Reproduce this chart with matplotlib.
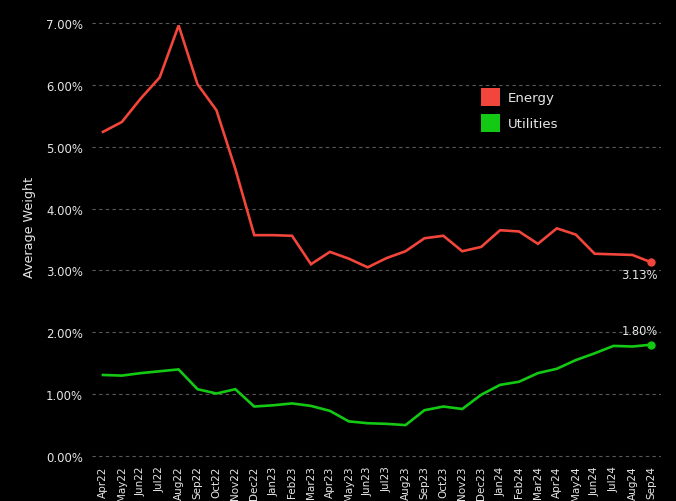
import matplotlib
matplotlib.use("Agg")
import matplotlib.pyplot as plt
from matplotlib.patches import Patch
from matplotlib.ticker import FuncFormatter

months = ["Apr22", "May22", "Jun22", "Jul22", "Aug22", "Sep22", "Oct22", "Nov22", "Dec22",
          "Jan23", "Feb23", "Mar23", "Apr23", "May23", "Jun23", "Jul23", "Aug23", "Sep23",
          "Oct23", "Nov23", "Dec23", "Jan24", "Feb24", "Mar24", "Apr24", "May24", "Jun24",
          "Jul24", "Aug24", "Sep24"]
energy = [5.24, 5.40, 5.78, 6.12, 6.96, 6.01, 5.59, 4.64, 3.57,
          3.57, 3.56, 3.10, 3.30, 3.19, 3.05, 3.20, 3.31, 3.52,
          3.56, 3.31, 3.38, 3.65, 3.63, 3.43, 3.68, 3.58, 3.27,
          3.26, 3.25, 3.13]
utilities = [1.31, 1.30, 1.34, 1.37, 1.40, 1.08, 1.01, 1.08, 0.80,
             0.82, 0.85, 0.81, 0.73, 0.56, 0.53, 0.52, 0.50, 0.74,
             0.80, 0.76, 0.99, 1.15, 1.20, 1.34, 1.41, 1.55, 1.66,
             1.78, 1.77, 1.80]
yticks = [0, 1, 2, 3, 4, 5, 6, 7]

RED = "#F2453B"
GREEN = "#13C913"
TXT = "#E6E6E6"
BG = "#000000"

plt.rcParams["font.family"] = ["DejaVu Sans"]

fig = plt.figure(figsize=(6.76, 5.02), dpi=100, facecolor=BG)
ax = fig.add_axes([92/676, 1-463.2/502, (661-92)/676, 451.6/502])
ax.set_facecolor(BG)

x = list(range(len(months)))
ax.plot(x, energy, color=RED, lw=1.9, solid_joinstyle="miter")
ax.plot(x, utilities, color=GREEN, lw=1.9, solid_joinstyle="miter")
ax.plot([x[-1]], [energy[-1]], "o", color=RED, ms=5)
ax.plot([x[-1]], [utilities[-1]], "o", color=GREEN, ms=5)

ax.annotate(f"{energy[-1]:.2f}%", (x[-1], energy[-1]), xytext=(4.5, -8.6),
            textcoords="offset points", ha="right", va="center", color=TXT, fontsize=8.3)
ax.annotate(f"{utilities[-1]:.2f}%", (x[-1], utilities[-1]), xytext=(4.5, 10.5),
            textcoords="offset points", ha="right", va="center", color=TXT, fontsize=8.3)

ax.set_xlim(-0.58, len(months) - 1 + 0.51)
ax.set_ylim(-0.1, 7.2)
ax.set_yticks(yticks)
ax.yaxis.set_major_formatter(FuncFormatter(lambda v, p: f"{v:.2f}%"))
ax.set_xticks(x)
ax.set_xticklabels(months, rotation=90, fontsize=7.5, color=TXT)
ax.tick_params(axis="y", labelsize=8.4, colors=TXT, length=0, pad=6.5)
ax.tick_params(axis="x", colors=TXT, length=0, pad=2.2)
ax.grid(axis="y", color="#5a5a5a", linestyle=(0, (3, 3)), lw=0.8)
ax.set_axisbelow(True)
for s in ax.spines.values():
    s.set_visible(False)

ax.set_ylabel("Average Weight", color=TXT, fontsize=9.2)
ax.yaxis.set_label_coords(-0.0984, 0.521)

handles = [Patch(facecolor=RED, edgecolor="none", label="Energy"),
           Patch(facecolor=GREEN, edgecolor="none", label="Utilities")]
leg = fig.legend(handles=handles, loc="upper left",
                 bbox_to_anchor=(481/676, 1-89/502), bbox_transform=fig.transFigure,
                 frameon=False, fontsize=9.6, handlelength=1.45, handleheight=1.73,
                 handletextpad=0.55, labelspacing=0.55, borderpad=0, borderaxespad=0)
for t in leg.get_texts():
    t.set_color(TXT)

fig.savefig("out.png", dpi=100, facecolor=BG)
